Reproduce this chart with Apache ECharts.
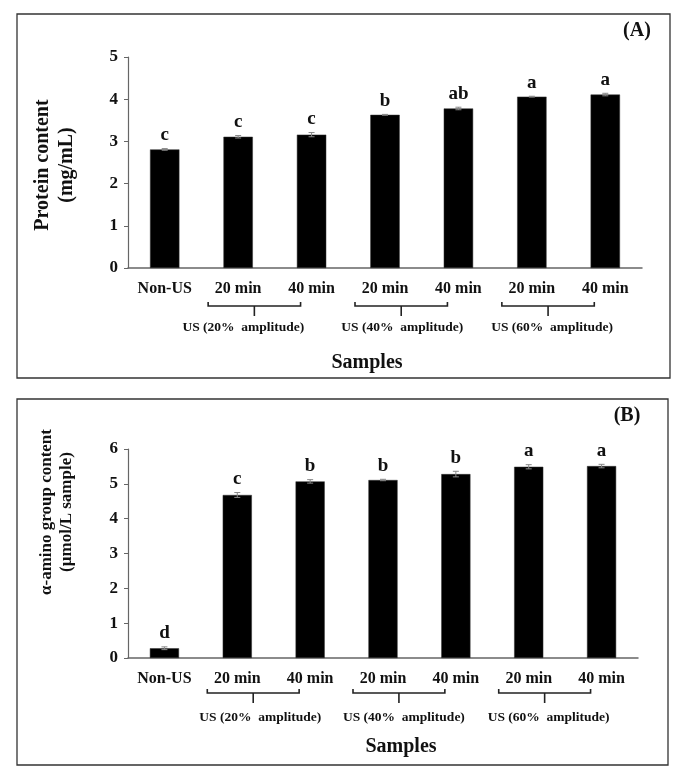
<!DOCTYPE html>
<html>
<head>
<meta charset="utf-8">
<script src="https://cdn.jsdelivr.net/npm/echarts@6/dist/echarts.min.js"></script>
<style>
html,body{margin:0;padding:0;background:#fff;}
#chart{width:685px;height:777px;}
</style>
</head>
<body>
<div id="chart"></div>
<script>
// ---- data ----
const categories = ['Non-US', '20 min', '40 min', '20 min', '40 min', '20 min', '40 min'];
const groupLabels = ['US (20%  amplitude)', 'US (40%  amplitude)', 'US (60%  amplitude)'];
const groupPairs = [[1, 2], [3, 4], [5, 6]];

const proteinValues = [2.81, 3.11, 3.16, 3.63, 3.78, 4.06, 4.11];
const proteinErrors = [0.02, 0.03, 0.05, 0.01, 0.03, 0.01, 0.03];
const proteinLetters = ['c', 'c', 'c', 'b', 'ab', 'a', 'a'];
const proteinTicks = [0, 1, 2, 3, 4, 5];

const aminoValues = [0.28, 4.68, 5.07, 5.11, 5.28, 5.49, 5.51];
const aminoErrors = [0.04, 0.07, 0.05, 0.02, 0.08, 0.06, 0.05];
const aminoLetters = ['d', 'c', 'b', 'b', 'b', 'a', 'a'];
const aminoTicks = [0, 1, 2, 3, 4, 5, 6];

const titleA = ['Protein content', '(mg/mL)'];
const titleB = ['\u03b1-amino group content', '(\u00b5mol/L sample)'];
const xTitle = 'Samples';

// ---- style ----
const FONT = '"Liberation Serif", "Times New Roman", serif';
const TXT = '#111';
const AXIS = '#666';

const chart = echarts.init(document.getElementById('chart'), null, {renderer: 'canvas'});

function errSeries(values, errors, letters, xi, yi) {
  return {
    type: 'custom',
    xAxisIndex: xi, yAxisIndex: yi,
    z: 5,
    data: values.map((v, i) => [i, v, errors[i]]),
    encode: {x: 0, y: 1},
    renderItem: function (params, api) {
      const x = api.value(0), v = api.value(1), e = api.value(2);
      const top = api.coord([x, v + e]);
      const bot = api.coord([x, v - e]);
      const hw = 3;
      const ls = {stroke: '#888', lineWidth: 1};
      return {
        type: 'group',
        children: [
          {type: 'line', shape: {x1: top[0], y1: top[1], x2: bot[0], y2: bot[1]}, style: ls},
          {type: 'line', shape: {x1: top[0] - hw, y1: top[1], x2: top[0] + hw, y2: top[1]}, style: ls},
          {type: 'line', shape: {x1: bot[0] - hw, y1: bot[1], x2: bot[0] + hw, y2: bot[1]}, style: ls},
          {type: 'text', x: top[0], y: top[1] - 4,
           style: {text: letters[params.dataIndex], align: 'center', verticalAlign: 'bottom',
                   fontSize: 19, fontWeight: 'bold', fontFamily: FONT, fill: TXT}}
        ]
      };
    }
  };
}

function valueAxis(gi, ticks) {
  return {
    type: 'value', gridIndex: gi,
    min: ticks[0], max: ticks[ticks.length - 1], interval: 1,
    splitLine: {show: false},
    axisLine: {show: true, lineStyle: {color: AXIS, width: 1.2}},
    axisTick: {show: true, length: 4, lineStyle: {color: AXIS}},
    axisLabel: {margin: 10, fontSize: 17, fontWeight: 'bold', fontFamily: FONT, color: TXT}
  };
}

function catAxis(gi) {
  return {
    type: 'category', gridIndex: gi, data: categories,
    axisLine: {show: true, lineStyle: {color: AXIS, width: 1.5}},
    axisTick: {show: false},
    axisLabel: {margin: 13, fontSize: 16, fontWeight: 'bold', fontFamily: FONT, color: TXT, interval: 0}
  };
}

const option = {
  animation: false,
  backgroundColor: '#fff',
  grid: [
    {left: 128, top: 57, width: 514, height: 211},
    {left: 128, top: 449, width: 510, height: 209}
  ],
  xAxis: [catAxis(0), catAxis(1)],
  yAxis: [valueAxis(0, proteinTicks), valueAxis(1, aminoTicks)],
  series: [
    {type: 'bar', xAxisIndex: 0, yAxisIndex: 0, data: proteinValues, barWidth: '40%',
     itemStyle: {color: '#000', borderColor: '#333', borderWidth: 0.5}},
    errSeries(proteinValues, proteinErrors, proteinLetters, 0, 0),
    {type: 'bar', xAxisIndex: 1, yAxisIndex: 1, data: aminoValues, barWidth: '40%',
     itemStyle: {color: '#000', borderColor: '#333', borderWidth: 0.5}},
    errSeries(aminoValues, aminoErrors, aminoLetters, 1, 1)
  ]
};
chart.setOption(option);

// ---- annotations (frames, titles, brackets) ----
function textEl(x, y, text, size, rot, extra) {
  return {
    type: 'text', x: x, y: y, rotation: rot || 0,
    style: Object.assign({text: text, align: 'center', verticalAlign: 'middle',
      fontSize: size, fontWeight: 'bold', fontFamily: FONT, fill: TXT}, extra || {})
  };
}

function brackets(xAxisIndex, yLine, yLabel, labelShift) {
  const els = [];
  groupPairs.forEach((p, k) => {
    const xa = chart.convertToPixel({xAxisIndex: xAxisIndex}, p[0]) - 30;
    const xb = chart.convertToPixel({xAxisIndex: xAxisIndex}, p[1]) - 11;
    const xm = (xa + xb) / 2;
    els.push({type: 'polyline', shape: {points: [[xa, yLine - 4], [xa, yLine], [xb, yLine], [xb, yLine - 4]]},
      style: {stroke: '#222', lineWidth: 1.6, fill: null}});
    els.push({type: 'line', shape: {x1: xm, y1: yLine, x2: xm, y2: yLine + 10},
      style: {stroke: '#222', lineWidth: 1.6}});
    els.push(textEl(xm + labelShift[k], yLabel, groupLabels[k], 13.5));
  });
  return els;
}

const graphics = [
  {type: 'rect', shape: {x: 17, y: 14, width: 653, height: 364}, style: {fill: null, stroke: '#333', lineWidth: 1.3}},
  {type: 'rect', shape: {x: 17, y: 399, width: 651, height: 366}, style: {fill: null, stroke: '#333', lineWidth: 1.3}},
  textEl(55, 165, titleA.join('\n'), 20, Math.PI / 2, {lineHeight: 24}),
  textEl(57, 512, titleB.join('\n'), 17, Math.PI / 2, {lineHeight: 20}),
  textEl(637, 31, '(A)', 20),
  textEl(627, 416, '(B)', 20),
  textEl(367, 363, xTitle, 20),
  textEl(401, 747, xTitle, 20)
].concat(brackets(0, 306, 328, [-11, 1, 4]), brackets(1, 693, 718, [7, 5, 4]));

chart.setOption({graphic: graphics});
</script>
</body>
</html>
